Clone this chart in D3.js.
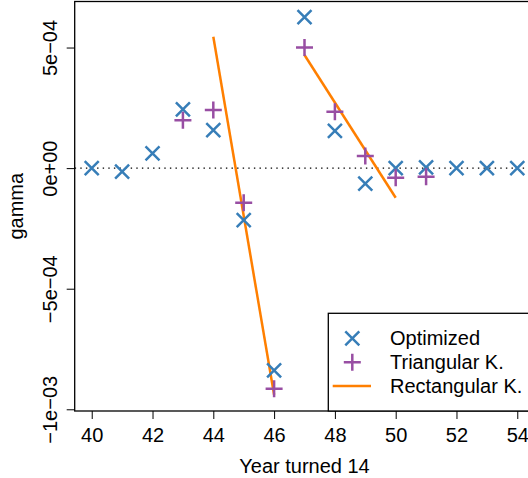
<!DOCTYPE html>
<html>
    <head>
        <meta charset="utf-8"/>
        <script src="https://d3js.org/d3.v7.min.js"></script>
        <style>
            body { margin: 0; background: #fff; }
            svg text { font-family: "Liberation Sans", Arial, Helvetica, sans-serif; fill: #000; }
        </style>
    </head>
    <body>
        <div id="chart"></div>

        <script>

            // values
            var optYears = [40, 41, 42, 43, 44, 45, 46, 47, 48, 49, 50, 51, 52, 53, 54];
            var optGamma = [0, -1.5e-5, 6.1e-5, 2.44e-4, 1.58e-4, -2.16e-4, -8.39e-4, 6.26e-4, 1.54e-4, -6.4e-5, 0, 3e-6, 0, 0, 0];

            var triYears = [43, 44, 45, 46, 47, 48, 49, 50, 51];
            var triGamma = [1.99e-4, 2.41e-4, -1.44e-4, -9.15e-4, 5.0e-4, 2.34e-4, 5.0e-5, -4.0e-5, -3.6e-5];

            // two fitted segments of the rectangular kernel
            var rectYears1 = [44, 46];
            var rectGamma1 = [5.45e-4, -9.4e-4];
            var rectYears2 = [47, 50];
            var rectGamma2 = [4.69e-4, -1.23e-4];

            var xTicks = [40, 42, 44, 46, 48, 50, 52, 54];
            var yTicks = [-1e-3, -5e-4, 0, 5e-4];
            var yTickLabels = ["\u22121e\u221203", "\u22125e\u221204", "0e+00", "5e\u221204"];

            var blue = "#377EB8", purple = "#984EA3", orange = "#FF7F00";

            var width = 528, height = 478;
            var plotLeft = 74.7, plotRight = 534.3, plotTop = 1.5, plotBottom = 411;

            var svg = d3.select("#chart").append("svg")
                .attr("width", width)
                .attr("height", height);

            var x = d3.scaleLinear().domain([39.44, 54.56]).range([plotLeft, plotRight]);
            var y = d3.scaleLinear().domain([-1.0071e-3, 6.909e-4]).range([plotBottom, plotTop]);

            /* zero reference line */
            svg.append("line")
                .attr("x1", plotLeft).attr("x2", plotRight)
                .attr("y1", y(0)).attr("y2", y(0))
                .attr("stroke", "#000")
                .attr("stroke-width", 1.4)
                .attr("stroke-dasharray", "1.4,4.2");

            /* rectangular kernel segments */
            var line = d3.line()
                .x(function(d) { return x(d[0]); })
                .y(function(d) { return y(d[1]); });

            [[rectYears1, rectGamma1], [rectYears2, rectGamma2]].forEach(function(s) {
                svg.append("path")
                    .datum(d3.zip(s[0], s[1]))
                    .attr("d", line)
                    .attr("fill", "none")
                    .attr("stroke", orange)
                    .attr("stroke-width", 2.5);
            });

            function timesPath(cx, cy, r) {
                return "M" + (cx - r) + "," + (cy - r) + "L" + (cx + r) + "," + (cy + r) +
                       "M" + (cx - r) + "," + (cy + r) + "L" + (cx + r) + "," + (cy - r);
            }
            function plusPath(cx, cy, r) {
                return "M" + (cx - r) + "," + cy + "L" + (cx + r) + "," + cy +
                       "M" + cx + "," + (cy - r) + "L" + cx + "," + (cy + r);
            }

            svg.append("g").selectAll("path")
                .data(d3.zip(optYears, optGamma))
                .enter().append("path")
                .attr("d", function(d) { return timesPath(x(d[0]), y(d[1]), 7); })
                .attr("stroke", blue)
                .attr("stroke-width", 2.5)
                .attr("fill", "none");

            svg.append("g").selectAll("path")
                .data(d3.zip(triYears, triGamma))
                .enter().append("path")
                .attr("d", function(d) { return plusPath(x(d[0]), y(d[1]), 8.5); })
                .attr("stroke", purple)
                .attr("stroke-width", 2.5)
                .attr("fill", "none");

            /* axes */
            var xAxis = svg.append("g")
                .attr("transform", "translate(0," + plotBottom + ")")
                .call(d3.axisBottom(x).tickValues(xTicks).tickSize(8).tickPadding(8.5).tickFormat(d3.format("d")));
            xAxis.select(".domain").remove();
            xAxis.attr("font-size", 20).attr("font-family", null);
            xAxis.selectAll("line").attr("stroke-width", 1);

            var yAxis = svg.append("g")
                .attr("transform", "translate(" + plotLeft + ",0)")
                .call(d3.axisLeft(y).tickValues(yTicks).tickSize(8)
                    .tickFormat(function(d, i) { return yTickLabels[i]; }));
            yAxis.select(".domain").remove();
            yAxis.attr("font-size", 20).attr("font-family", null);
            yAxis.selectAll("text")
                .attr("x", null).attr("dy", null)
                .attr("text-anchor", "middle")
                .attr("transform", "translate(-18,0) rotate(-90)");

            /* plot box */
            svg.append("rect")
                .attr("x", plotLeft).attr("y", plotTop)
                .attr("width", plotRight - plotLeft).attr("height", plotBottom - plotTop)
                .attr("fill", "none")
                .attr("stroke", "#000")
                .attr("stroke-width", 1.3);

            /* axis titles */
            svg.append("text")
                .attr("x", (plotLeft + plotRight) / 2).attr("y", 473.3)
                .attr("text-anchor", "middle")
                .attr("font-size", 20)
                .text("Year turned 14");

            svg.append("text")
                .attr("transform", "translate(23.3," + ((plotTop + plotBottom) / 2) + ") rotate(-90)")
                .attr("text-anchor", "middle")
                .attr("font-size", 20)
                .text("gamma");

            /* legend */
            var legend = svg.append("g");
            legend.append("rect")
                .attr("x", 328.3).attr("y", 313.3)
                .attr("width", 300).attr("height", plotBottom - 313.3)
                .attr("fill", "#fff")
                .attr("stroke", "#000")
                .attr("stroke-width", 1.3);

            var rows = [338.3, 362.3, 386];
            legend.append("path").attr("d", timesPath(352.3, rows[0], 7))
                .attr("stroke", blue).attr("stroke-width", 2.5);
            legend.append("path").attr("d", plusPath(352.3, rows[1], 8.5))
                .attr("stroke", purple).attr("stroke-width", 2.5);
            legend.append("line")
                .attr("x1", 332.7).attr("x2", 371)
                .attr("y1", rows[2]).attr("y2", rows[2])
                .attr("stroke", orange).attr("stroke-width", 2.5);

            ["Optimized", "Triangular K.", "Rectangular K."].forEach(function(t, i) {
                legend.append("text")
                    .attr("x", 390).attr("y", rows[i] + 7)
                    .attr("font-size", 20)
                    .text(t);
            });

        </script>
    </body>
</html>
